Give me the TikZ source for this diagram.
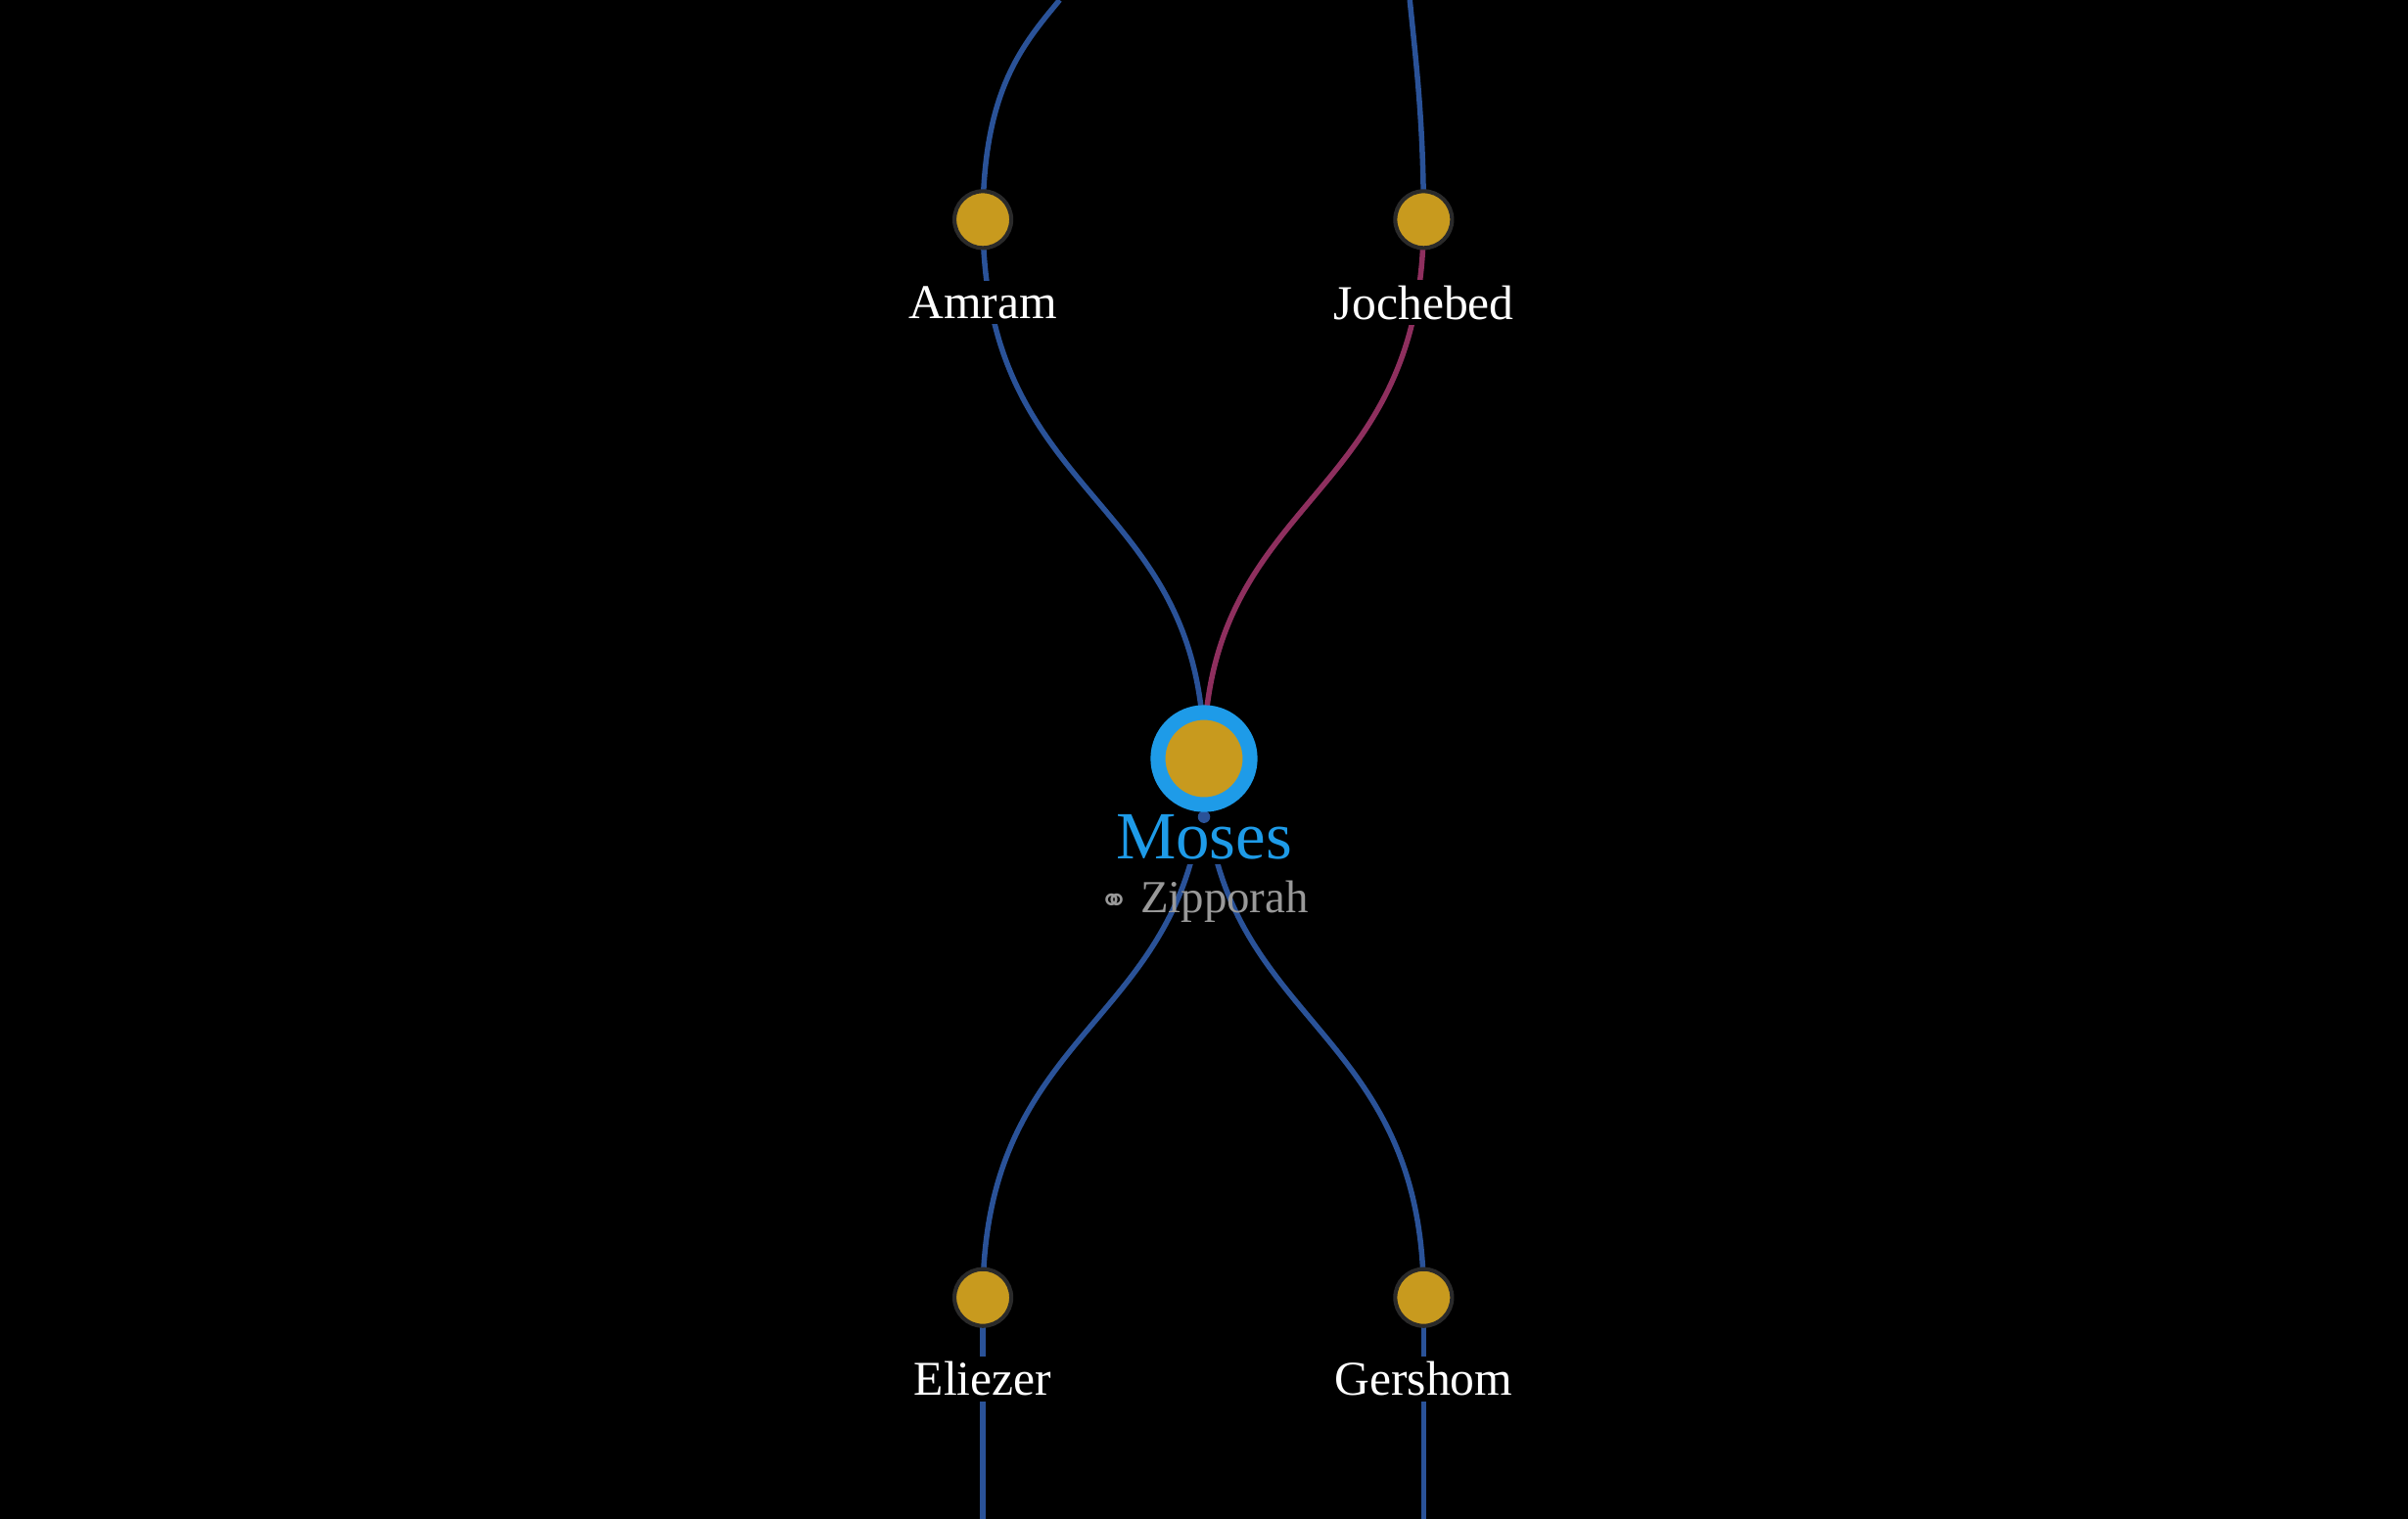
\documentclass[tikz,border=0pt]{standalone}
\usepackage{fontspec}
\setmainfont{Liberation Serif}
\newfontfamily\symf{DejaVu Sans}
\definecolor{gold}{HTML}{C89A1E}
\definecolor{edgeb}{HTML}{2A5298}
\definecolor{edgem}{HTML}{8E2F5E}
\definecolor{ring}{HTML}{1E9BE8}
\definecolor{rim}{HTML}{2A2A2A}
\begin{document}
\begin{tikzpicture}[x=0.02cm,y=-0.02cm,
  person/.style={circle,fill=gold,draw=rim,line width=1.5pt,minimum size=37\pgflinewidth,inner sep=0pt,minimum size=0.74cm},
  lbl/.style={fill=black,text=white,font=\fontsize{18}{20}\selectfont,inner sep=2pt},
  eb/.style={draw=edgeb,line width=2pt},
  em/.style={draw=edgem,line width=2pt}]
\fill[black] (0,0) rectangle (1568,989);
\useasboundingbox (0,0) rectangle (1568,989);
\coordinate (at) at (690,0);
\coordinate (jt) at (918,0);
\coordinate (eb) at (640,989);
\coordinate (gb) at (927,989);
\coordinate (A) at (640,143);
\coordinate (J) at (927,143);
\coordinate (M) at (784,494);
\coordinate (E) at (640,845);
\coordinate (G) at (927,845);
\draw[eb] (A) .. controls (640,60) and (665,30) .. (at);
\draw[eb] (J) .. controls (927,80) and (922,40) .. (jt);
\draw[eb] (A) .. controls (640,330) and (784,320) .. (M);
\draw[em] (J) .. controls (927,330) and (784,320) .. (M);
\draw[eb] (M) .. controls (784,670) and (640,660) .. (E);
\draw[eb] (M) .. controls (784,670) and (927,660) .. (G);
\draw[eb] (E) -- (eb);
\draw[eb] (G) -- (gb);
\node[lbl] (la) at (640,197) {Amram};
\node[lbl] (lj) at (927,197) {Jochebed};
\node[lbl] (le) at (640,898) {Eliezer};
\node[lbl] (lg) at (927,898) {Gershom};
\node[fill=black,text=ring,font=\fontsize{25}{28}\selectfont,inner sep=2pt] (lm) at (784,545) {Moses};
\node[text=gray!80,font=\fontsize{17}{20}\selectfont,inner sep=1pt] (lz) at (784,587) {{\symf\fontsize{13}{15}\selectfont ⚭} Zipporah};
\fill[edgeb] (784,532) circle (4);
\node[person] (a) at (A) {};
\node[person] (j) at (J) {};
\node[person] (e) at (E) {};
\node[person] (g) at (G) {};
\node[circle,fill=gold,draw=ring,line width=5.5pt,minimum size=1.2cm,inner sep=0pt] (m) at (M) {};
\end{tikzpicture}
\end{document}
